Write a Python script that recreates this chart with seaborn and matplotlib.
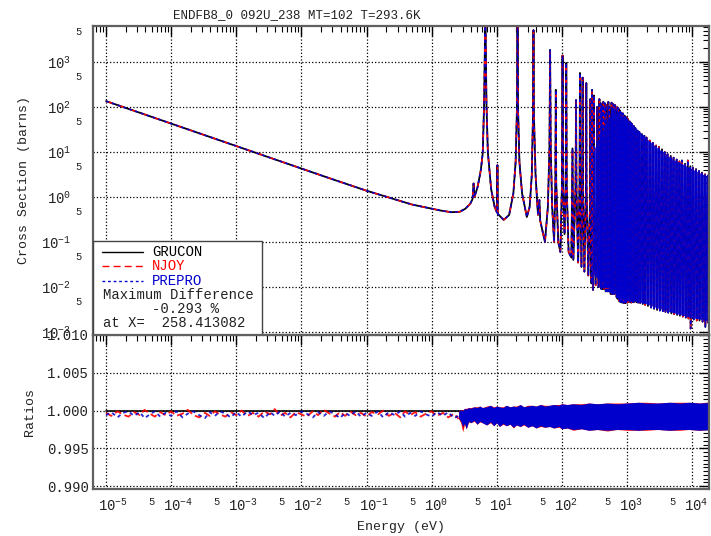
import numpy as np
import pandas as pd
import matplotlib
matplotlib.use("Agg")
import matplotlib.pyplot as plt
import matplotlib.ticker as mticker
from matplotlib.patches import Rectangle
from matplotlib.transforms import ScaledTranslation
import seaborn as sns

# =========================
# DATA
# =========================

title = "ENDFB8_0 092U_238 MT=102 T=293.6K"
codes = ["GRUCON", "NJOY", "PREPRO"]
max_diff_text = "-0.293 %"
max_diff_at = "258.413082"

# thermal + first resonances
e_low = [1e-5, 1e-3, 0.0253, 0.1, 0.5, 1.0, 1.38, 2.0, 2.7, 3.3,
         3.9, 4.25, 4.41, 4.55, 5.1, 5.7, 6.1, 6.4, 6.55, 6.67,
         6.8, 6.95, 7.3, 8.2, 9.3, 10.1, 10.24, 10.4, 12.8, 15.5,
         18.0, 19.5, 20.4, 20.87, 21.3, 22.3, 24.5, 29.0, 32.0, 34.5,
         36.0, 36.68, 37.3, 39.5, 43.0, 45.2, 46.5, 55.0]
xs_low = [135, 13.5, 2.7, 1.38, 0.68, 0.55, 0.50, 0.46, 0.47, 0.55,
          0.70, 0.90, 2.0, 1.0, 1.7, 4.0, 9.5, 120, 1500, 22000,
          1500, 120, 10, 1.5, 0.6, 0.45, 5.1, 0.42, 0.31, 0.40,
          1.2, 6.0, 80, 15000, 80, 6.0, 1.2, 0.36, 0.6, 3.0,
          60, 5100, 60, 3.0, 0.4, 0.86, 0.3, 0.1]

# resolved resonances 60 - 650 eV
e_mid = [61, 64.5, 66.03, 67.5, 71, 76, 79.5, 80.75, 82, 88,
         95, 100, 102.5, 105, 110, 114.5, 116.9, 119, 127, 140,
         145.7, 150, 162, 165.3, 168, 178, 187, 189.7, 192, 200,
         206, 208.5, 211, 222, 235, 237.4, 240, 255, 272, 273.7,
         276, 285, 289, 291, 294, 302, 309, 311, 314, 330,
         346, 347.8, 350, 365, 375, 376.9, 379, 390, 396, 397.6,
         400, 405, 409, 410.3, 412, 422, 432, 434, 436, 448,
         461, 463, 465, 472, 477, 478.5, 480, 500, 516, 518,
         520, 528, 533, 535, 537, 560, 578, 580, 582, 588,
         593, 595, 597, 608, 617, 619, 621, 640]
xs_mid = [0.6, 12, 1850, 12, 0.6, 0.1, 2.0, 240, 2.0, 0.1,
          0.06, 1.5, 1400, 1.5, 0.15, 1.5, 950, 1.5, 0.06, 0.045,
          12, 0.04, 1.5, 143, 1.2, 0.035, 2.0, 570, 1.5, 0.028,
          3.0, 450, 1.5, 0.022, 2.0, 340, 1.2, 0.018, 1.0, 150,
          0.8, 0.012, 2.0, 240, 1.0, 0.0086, 2.0, 180, 0.8, 0.011,
          1.5, 100, 0.6, 0.010, 1.5, 150, 0.6, 0.010, 1.2, 120,
          0.5, 0.009, 1.2, 110, 0.5, 0.009, 1.2, 130, 0.5, 0.009,
          1.2, 120, 0.5, 0.008, 1.2, 110, 0.5, 0.008, 1.2, 130,
          0.5, 0.008, 1.0, 100, 0.5, 0.007, 1.0, 125, 0.5, 0.007,
          1.0, 90, 0.5, 0.007, 1.0, 115, 0.5, 0.007]

# dense region 650 eV - 20 keV (peaks / valleys)
e_high = [661, 690, 709, 715, 736, 750, 767, 772, 780, 800,
          820, 840, 852, 860, 866, 890, 905, 920, 937, 948,
          958, 975, 991, 1010, 1023, 1050, 1098, 1120, 1140, 1170,
          1200, 1250, 1270, 1300, 1350, 1400, 1450, 1480, 1550, 1600,
          1700, 1750, 1850, 1900, 2000, 2100, 2250, 2350, 2500, 2600,
          2800, 2900, 3100, 3200, 3450, 3550, 3800, 3900, 4200, 4300,
          4700, 4800, 5200, 5300, 5800, 5900, 6400, 6500, 7000, 7200,
          7800, 8000, 8600, 8800, 9400, 9500, 10300, 10600, 11500, 11800,
          12800, 13000, 14200, 14500, 15800, 16000, 17500, 17800, 19000, 19500,
          21000]
xs_high = [110, 0.006, 100, 0.0055, 95, 0.005, 85, 0.0048, 80, 0.0046,
           75, 0.0045, 70, 0.0046, 72, 0.0044, 65, 0.0045, 62, 0.0044,
           60, 0.0046, 58, 0.0045, 55, 0.0047, 48, 0.0046, 45, 0.0045,
           42, 0.0046, 38, 0.0047, 34, 0.0046, 30, 0.0045, 28, 0.0044,
           25, 0.0042, 23, 0.004, 21, 0.0038, 18, 0.0035, 16, 0.0033,
           14, 0.0031, 13, 0.003, 11.5, 0.0029, 10, 0.0028, 9.0, 0.0027,
           8.2, 0.0026, 7.5, 0.0025, 6.8, 0.0024, 6.2, 0.0023, 6.5, 0.0022,
           5.5, 0.0021, 6.5, 0.002, 4.8, 0.0012, 4.5, 0.0019, 4.2, 0.0018,
           3.8, 0.0018, 3.5, 0.0017, 3.2, 0.0013, 3.0, 0.0016, 2.8, 0.0015,
           2.7]

# filled envelope of the dense resonance band
band_e = [300, 450, 600, 800, 1000, 1500, 2000, 3000, 5000, 7000, 10000, 14000, 21000]
band_hi = [10, 40, 80, 65, 50, 30, 20, 12, 7.0, 5.5, 4.2, 3.3, 2.6]
band_lo = [0.02, 0.011, 0.008, 0.0055, 0.005, 0.0047, 0.0042, 0.0034, 0.0027, 0.0024,
           0.0021, 0.0019, 0.0017]

# ratios, thermal region (noisy strip)
r_low_e = [1.0e-5, 1.2e-5, 1.5e-5, 1.8e-5, 2.2e-5, 2.7e-5, 3.3e-5, 3.9e-5, 4.7e-5, 5.6e-5, 6.8e-5, 8.2e-5,
           1.0e-4, 1.2e-4, 1.5e-4, 1.8e-4, 2.2e-4, 2.7e-4, 3.3e-4, 3.9e-4, 4.7e-4, 5.6e-4, 6.8e-4, 8.2e-4,
           1.0e-3, 1.2e-3, 1.5e-3, 1.8e-3, 2.2e-3, 2.7e-3, 3.3e-3, 3.9e-3, 4.7e-3, 5.6e-3, 6.8e-3, 8.2e-3,
           1.0e-2, 1.2e-2, 1.5e-2, 1.8e-2, 2.2e-2, 2.7e-2, 3.3e-2, 3.9e-2, 4.7e-2, 5.6e-2, 6.8e-2, 8.2e-2,
           0.10, 0.12, 0.15, 0.18, 0.22, 0.27, 0.33, 0.39, 0.47, 0.56, 0.68, 0.82,
           1.0, 1.2, 1.5, 1.8, 2.2, 2.6]
njoy_low = [0.9997, 0.9993, 0.9999, 0.9995, 0.9992, 0.9998, 0.9994, 1.0001, 0.9996, 0.9992, 0.9998, 0.9994,
            0.9999, 0.9993, 0.9996, 1.0001, 0.9994, 0.9991, 0.9997, 0.9993, 0.9999, 0.9995, 0.9992, 0.9998,
            0.9994, 1.0000, 0.9993, 0.9997, 0.9992, 0.9999, 0.9995, 1.0002, 0.9993, 0.9997, 0.9991, 0.9998,
            0.9995, 0.9992, 0.9999, 0.9994, 1.0001, 0.9996, 0.9992, 0.9998, 0.9993, 0.9999, 0.9994, 0.9997,
            0.9992, 0.9998, 0.9995, 1.0000, 0.9993, 0.9997, 0.9991, 0.9999, 0.9994, 0.9998, 0.9992, 0.9996,
            0.9999, 0.9993, 0.9997, 0.9991, 0.9996, 0.9989]
prepro_low = [0.9994, 0.9998, 0.9991, 0.9997, 0.9999, 0.9993, 0.9998, 0.9990, 0.9995, 0.9999, 0.9992, 0.9997,
              0.9993, 0.9999, 0.9991, 0.9996, 0.9999, 0.9994, 0.9990, 0.9998, 0.9993, 0.9999, 0.9996, 0.9991,
              0.9998, 0.9992, 0.9999, 0.9994, 0.9997, 0.9990, 0.9998, 0.9993, 0.9999, 0.9992, 0.9997, 0.9994,
              0.9999, 0.9996, 0.9991, 0.9998, 0.9993, 0.9999, 0.9995, 0.9990, 0.9997, 0.9993, 0.9999, 0.9992,
              0.9997, 0.9993, 0.9999, 0.9991, 0.9998, 0.9994, 0.9999, 0.9992, 0.9997, 0.9993, 0.9999, 0.9995,
              0.9992, 0.9998, 0.9993, 0.9998, 0.9990, 0.9993]

# ratios, resonance region (solid band)
r_band_e = [2.6, 2.8, 3.0, 3.2, 3.4, 3.7, 4.0, 4.5, 5.0, 5.5, 6.0, 7.0,
            8.0, 9.0, 10, 11, 12.5, 14, 16, 18, 20, 23, 26, 30,
            35, 40, 47, 55, 65, 75, 90, 100, 120, 150, 200, 260,
            350, 500, 700, 1000, 1500, 2000, 3000, 4500, 6500, 9000, 13000, 21000]
prepro_hi = [0.9999, 1.0001, 1.0000, 1.0003, 1.0002, 1.0004, 1.0003, 1.0005, 1.0004, 1.0006, 1.0004, 1.0005,
             1.0007, 1.0004, 1.0006, 1.0005, 1.0004, 1.0007, 1.0005, 1.0006, 1.0005, 1.0008, 1.0005, 1.0006,
             1.0007, 1.0006, 1.0008, 1.0006, 1.0007, 1.0008, 1.0007, 1.0009, 1.0008, 1.0009, 1.0008, 1.0010,
             1.0009, 1.0010, 1.0009, 1.0010, 1.0011, 1.0010, 1.0010, 1.0011, 1.0010, 1.0011, 1.0010, 1.0011]
prepro_lo = [0.9990, 0.9986, 0.9979, 0.9983, 0.9976, 0.9986, 0.9984, 0.9987, 0.9982, 0.9986, 0.9984, 0.9981,
             0.9985, 0.9980, 0.9984, 0.9979, 0.9983, 0.9980, 0.9982, 0.9978, 0.9981, 0.9979, 0.9982, 0.9978,
             0.9980, 0.9977, 0.9980, 0.9978, 0.9979, 0.9977, 0.9979, 0.9976, 0.9977, 0.9975, 0.9976, 0.9974,
             0.9975, 0.9974, 0.9975, 0.9975, 0.9974, 0.9975, 0.9975, 0.9974, 0.9975, 0.9975, 0.9974, 0.9975]
njoy_hi = [1.0000, 1.0001, 1.0001, 1.0003, 1.0003, 1.0004, 1.0004, 1.0005, 1.0005, 1.0006, 1.0004, 1.0006,
           1.0007, 1.0005, 1.0006, 1.0005, 1.0005, 1.0007, 1.0005, 1.0006, 1.0006, 1.0008, 1.0005, 1.0007,
           1.0007, 1.0006, 1.0008, 1.0007, 1.0007, 1.0008, 1.0008, 1.0009, 1.0008, 1.0009, 1.0009, 1.0010,
           1.0009, 1.0010, 1.0010, 1.0010, 1.0011, 1.0011, 1.0010, 1.0011, 1.0011, 1.0011, 1.0010, 1.0012]
njoy_lo = [0.9989, 0.9984, 0.9972, 0.9982, 0.9976, 0.9985, 0.9984, 0.9986, 0.9982, 0.9985, 0.9984, 0.9981,
           0.9984, 0.9980, 0.9984, 0.9979, 0.9982, 0.9980, 0.9982, 0.9977, 0.9981, 0.9979, 0.9981, 0.9978,
           0.9980, 0.9977, 0.9979, 0.9978, 0.9979, 0.9977, 0.9978, 0.9976, 0.9977, 0.9974, 0.9976, 0.9974,
           0.9975, 0.9973, 0.9975, 0.9974, 0.9974, 0.9974, 0.9975, 0.9974, 0.9974, 0.9975, 0.9974, 0.9975]

# =========================
# STYLE
# =========================

sns.set_style("white")
plt.rcParams["font.family"] = ["Liberation Mono", "DejaVu Sans Mono"]
plt.rcParams["mathtext.fontset"] = "custom"
plt.rcParams["mathtext.rm"] = "Liberation Mono"
plt.rcParams["mathtext.it"] = "Liberation Mono"
plt.rcParams["mathtext.bf"] = "Liberation Mono"

RED = "#ff0000"
BLUE = "#0000cc"
TXT = "#222222"

X_LIM = (6.3e-6, 1.82e4)
XS_LIM = (8.6e-4, 6300)

xs_df = pd.DataFrame({
    "E": e_low + e_mid + e_high,
    "xs": xs_low + xs_mid + xs_high,
})

fig = plt.figure(figsize=(7.11, 5.36), dpi=100)
ax1 = fig.add_axes([0.1308, 0.375, 0.8664, 0.5765])
ax2 = fig.add_axes([0.1308, 0.0877, 0.8664, 0.2873])

# =========================
# TOP PANEL: CROSS SECTION
# =========================

sns.lineplot(data=xs_df, x="E", y="xs", ax=ax1, sort=False, estimator=None,
             color="black", lw=1.3, zorder=2)
sns.lineplot(data=xs_df, x="E", y="xs", ax=ax1, sort=False, estimator=None,
             color=RED, lw=1.1, linestyle=(0, (5, 3)), zorder=2.1)
# dense band sits over the red dashes, so they only tint it
ax1.fill_between(band_e, band_lo, band_hi, color=BLUE, lw=0, alpha=0.85, zorder=2.15)
sns.lineplot(data=xs_df, x="E", y="xs", ax=ax1, sort=False, estimator=None,
             color=BLUE, lw=1.1, linestyle=(0, (2, 2)), zorder=2.2)

ax1.set_yscale("log")
ax1.set_ylim(*XS_LIM)
ax1.set_ylabel("Cross Section (barns)", fontsize=9.5, color=TXT, labelpad=8)
ax1.set_xlabel("")

# =========================
# BOTTOM PANEL: RATIOS
# =========================

sns.lineplot(x=[1e-5, 21000], y=[1.0, 1.0], ax=ax2, color="black", lw=1.2, zorder=2)
ax2.fill_between(r_band_e, njoy_lo, njoy_hi, color=RED, lw=0, zorder=2.2)
ax2.fill_between(r_band_e, prepro_lo, prepro_hi, color=BLUE, lw=0, zorder=2.3)
sns.lineplot(x=r_low_e, y=njoy_low, ax=ax2, sort=False, estimator=None,
             color=RED, lw=1.3, linestyle=(0, (4, 2)), alpha=0.9, zorder=2.4)
sns.lineplot(x=r_low_e, y=prepro_low, ax=ax2, sort=False, estimator=None,
             color=BLUE, lw=1.3, linestyle=(0, (2, 2)), alpha=0.85, zorder=2.5)

ax2.set_ylim(0.98963, 1.0100)
ax2.yaxis.set_major_locator(mticker.MultipleLocator(0.005))
ax2.yaxis.set_minor_locator(mticker.MultipleLocator(0.0005))
ax2.yaxis.set_major_formatter(mticker.FormatStrFormatter("%.3f"))
ax2.set_ylabel("Ratios", fontsize=9.5, color=TXT, labelpad=8)
ax2.set_xlabel("Energy (eV)", fontsize=9.5, color=TXT, labelpad=5)

# =========================
# AXES, TICKS, GRID
# =========================


def log_formatters(lo, hi):
    # labels only inside the visible range: 10^n at decades, "5" at 5x10^n
    def major(v, pos):
        if v < lo or v > hi:
            return ""
        return r"$\mathregular{10^{%d}}$" % int(round(np.log10(v)))

    def minor(v, pos):
        if v < lo or v > hi:
            return ""
        m = v / 10 ** np.floor(np.log10(v) + 1e-9)
        return "5" if abs(m - 5) < 0.01 else ""

    return mticker.FuncFormatter(major), mticker.FuncFormatter(minor)


for ax in (ax1, ax2):
    ax.set_xscale("log")
    ax.set_xlim(*X_LIM)
    ax.xaxis.set_major_locator(mticker.LogLocator(base=10, numticks=20))
    ax.xaxis.set_minor_locator(mticker.LogLocator(base=10, subs=np.arange(2, 10), numticks=20))
    ax.tick_params(which="both", direction="in", top=True, right=True, colors="black",
                   labelcolor=TXT)
    ax.tick_params(which="major", length=7, width=1.0, labelsize=10)
    ax.tick_params(which="minor", length=4, width=0.8, labelsize=7.5)
    ax.grid(True, which="major", ls=":", color="black", lw=0.9)
    for sp in ax.spines.values():
        sp.set_color("#606060")
        sp.set_linewidth(1.6)

ax1.tick_params(axis="x", which="both", labelbottom=False)
ax1.yaxis.set_major_locator(mticker.LogLocator(base=10, numticks=20))
ax1.yaxis.set_minor_locator(mticker.LogLocator(base=10, subs=np.arange(2, 10), numticks=20))
y_major, y_minor = log_formatters(*XS_LIM)
ax1.yaxis.set_major_formatter(y_major)
ax1.yaxis.set_minor_formatter(y_minor)
ax1.tick_params(axis="y", which="major", pad=16)
ax1.tick_params(axis="y", which="minor", pad=8)

x_major, x_minor = log_formatters(*X_LIM)
ax2.xaxis.set_major_formatter(x_major)
ax2.xaxis.set_minor_formatter(x_minor)
ax2.tick_params(axis="x", which="major", pad=6)
ax2.tick_params(axis="x", which="minor", pad=6)
ax2.tick_params(axis="y", which="major", pad=3)

# =========================
# LEGEND BOX
# =========================

ax1.add_patch(Rectangle((0, 0), 0.274, 0.304, transform=ax1.transAxes,
                        fc="white", ec="#444444", lw=1.0, zorder=5))
leg_rows = [0.268, 0.222, 0.176]
leg_styles = [("black", "-"), (RED, (0, (5, 3))), (BLUE, (0, (2, 2)))]
for name, yy, (col, ls) in zip(codes, leg_rows, leg_styles):
    ax1.plot([0.015, 0.081], [yy, yy], transform=ax1.transAxes, color=col,
             ls=ls, lw=1.0, zorder=6)
    ax1.text(0.096, yy, name, transform=ax1.transAxes, color=col,
             fontsize=10, va="center", zorder=6)
ax1.text(0.016, 0.130, "Maximum Difference", transform=ax1.transAxes,
         fontsize=10, va="center", color=TXT, zorder=6)
ax1.text(0.096, 0.084, max_diff_text, transform=ax1.transAxes,
         fontsize=10, va="center", color=TXT, zorder=6)
ax1.text(0.016, 0.040, "at X=  " + max_diff_at, transform=ax1.transAxes,
         fontsize=10, va="center", color=TXT, zorder=6)

fig.text(0.418, 0.972, title, fontsize=9, ha="center", va="center", color=TXT)

# major energy labels start just left of their tick, as in the reference
fig.canvas.draw()
shift = ScaledTranslation(-8 / 100, 0, fig.dpi_scale_trans)
for lbl in ax2.xaxis.get_majorticklabels():
    lbl.set_horizontalalignment("left")
    lbl.set_transform(lbl.get_transform() + shift)

fig.savefig("out.png", dpi=100)
